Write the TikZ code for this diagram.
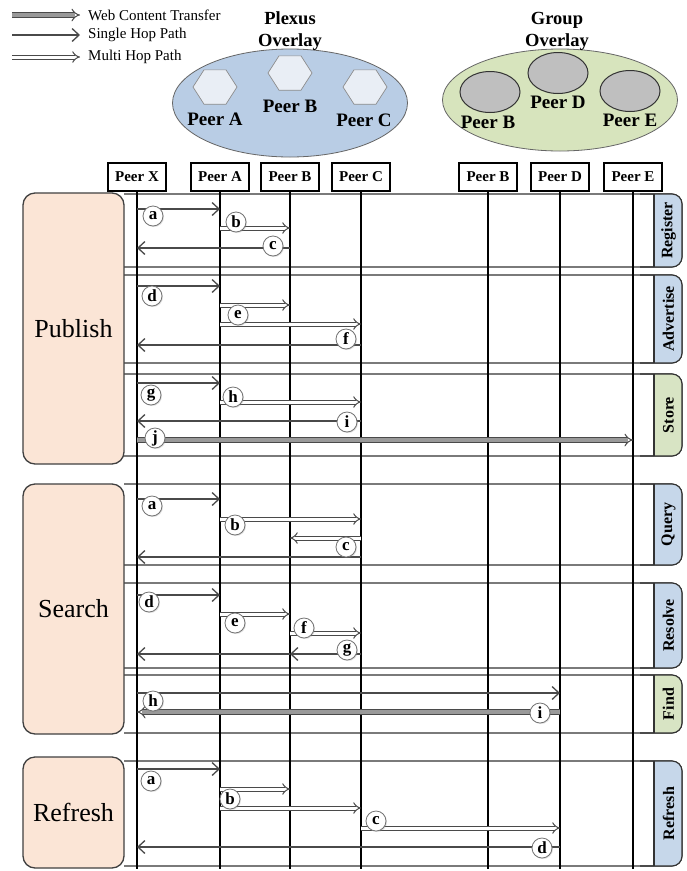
\documentclass[tikz,border=0pt]{standalone}
\usepackage{fontspec}
\setmainfont{Liberation Serif}
\usetikzlibrary{arrows.meta,shapes.geometric,shadows}
\definecolor{peach}{HTML}{FBE5D6}
\definecolor{tabblue}{HTML}{C6D7EA}
\definecolor{tabgreen}{HTML}{D8E4C4}
\definecolor{plexusc}{HTML}{B9CDE5}
\definecolor{groupc}{HTML}{D7E4BD}
\definecolor{hexfill}{HTML}{E9EEF5}
\definecolor{peergray}{HTML}{BFBFBF}
\definecolor{arrc}{HTML}{4A4A4A}
\tikzset{
  hdr/.style={draw, line width=1.5pt, minimum width=58pt, minimum height=28pt, inner sep=0pt, font=\fontsize{15}{17}\selectfont\bfseries},
  lifeline/.style={line width=1.6pt},
  bigbox/.style={draw=black!75, line width=1.3pt, fill=peach, rounded corners=12pt, minimum width=101pt, inner sep=0pt, font=\fontsize{26}{30}\selectfont},
  band/.style={draw=black!80, line width=1.1pt, rounded corners=10pt},
  tablbl/.style={rotate=90, font=\fontsize{16}{18}\selectfont\bfseries},
  single/.style={draw=arrc, line width=1.3pt, -{Straight Barb[length=7pt,width=13pt]}},
  multi/.style={draw=arrc, line width=1pt, double=white, double distance=3pt, -{Implies[scale=1.2]}},
  web/.style={draw=arrc, line width=1pt, double=black!40, double distance=3.4pt, -{Implies[scale=1.1]}},
  lbl/.style={circle, draw=black!55, fill=white, line width=0.8pt, minimum size=20pt, inner sep=0pt, font=\fontsize{17}{19}\selectfont\bfseries, drop shadow={opacity=0.25, shadow xshift=1pt, shadow yshift=-1pt}},
  ptitle/.style={font=\fontsize{18.5}{22}\selectfont\bfseries, align=center},
  plbl/.style={font=\fontsize{19}{21}\selectfont\bfseries},
  legtxt/.style={anchor=west, font=\fontsize{15}{17}\selectfont, inner sep=0pt},
  hexa/.style={regular polygon, regular polygon sides=6, minimum size=44pt, inner sep=0pt, draw=black!45, line width=0.7pt, fill=hexfill, yscale=0.9},
  gpeer/.style={ellipse, draw=black!80, line width=1pt, fill=peergray, minimum width=60pt, minimum height=41pt, inner sep=0pt},
}
\newcommand\msgline[4]{\draw[#1] (#2 |- 0,#4) -- (#3 |- 0,#4);}
\newcommand\bandbox[4]{% top, bottom, colour, label
  \draw[band] (124,#1) -- (682,#1) -- (682,#2) -- (124,#2);
  \begin{scope}
    \clip (654,#1) rectangle (690,#2);
    \fill[#3, rounded corners=10pt] (600,#1) rectangle (682,#2);
  \end{scope}
  \draw[band] (640,#1) -- (682,#1) -- (682,#2) -- (640,#2);
  \draw[black!80, line width=1.1pt] (654,#1) -- (654,#2);
  \node[tablbl] at (668.5,{(#1+#2)/2}) {#4};
}
\begin{document}
\begin{tikzpicture}[x=1pt, y=-1pt]
\useasboundingbox[fill=white] (0,0) rectangle (687,871);

% legend
\coordinate (l1a) at (12,15); \coordinate (l1b) at (80,15);
\coordinate (l2a) at (12,35); \coordinate (l2b) at (80,35);
\coordinate (l3a) at (12,57); \coordinate (l3b) at (80,57);
\draw[web] (l1a) -- (l1b);
\draw[single] (l2a) -- (l2b);
\draw[multi] (l3a) -- (l3b);
\node[legtxt] (t1) at (88,15) {Web Content Transfer};
\node[legtxt] (t2) at (88,35) {Single Hop Path};
\node[legtxt] (t3) at (88,57) {Multi Hop Path};

% overlays
\node[ellipse, draw=black!60, line width=0.8pt, fill=plexusc, minimum width=235pt, minimum height=108pt] (plexus) at (290,103) {};
\node[ptitle] (ptit) at (290,31) {Plexus\\Overlay};
\node[hexa] (hA) at (215,87) {};
\node[hexa] (hB) at (290,73) {};
\node[hexa] (hC) at (365,87) {};
\node[plbl] (pA) at (215,119) {Peer A};
\node[plbl] (pB) at (290,106) {Peer B};
\node[plbl] (pC) at (364,120) {Peer C};

\node[ellipse, draw=black!60, line width=0.8pt, fill=groupc, minimum width=235pt, minimum height=102pt] (group) at (560,100) {};
\node[ptitle] (gtit) at (557,31) {Group\\Overlay};
\node[gpeer] (cB) at (490,92) {};
\node[gpeer] (cD) at (558,73) {};
\node[gpeer] (cE) at (630,91) {};
\node[plbl] (qB) at (488,122) {Peer B};
\node[plbl] (qD) at (558,102) {Peer D};
\node[plbl] (qE) at (630,120) {Peer E};

% bands
\bandbox{194}{267}{tabblue}{Register}
\bandbox{275}{363}{tabblue}{Advertise}
\bandbox{374}{456}{tabgreen}{Store}
\bandbox{484}{565}{tabblue}{Query}
\bandbox{583}{668}{tabblue}{Resolve}
\bandbox{675}{733}{tabgreen}{Find}
\bandbox{761}{866}{tabblue}{Refresh}

% headers and lifelines
\node[hdr] (X) at (137,177) {Peer X};
\node[hdr] (A) at (220,177) {Peer A};
\node[hdr] (B) at (290,177) {Peer B};
\node[hdr] (C) at (361,177) {Peer C};
\node[hdr] (GB) at (488,177) {Peer B};
\node[hdr] (GD) at (560,177) {Peer D};
\node[hdr] (GE) at (633,177) {Peer E};
\foreach \n in {X,A,B,C,GB,GD,GE}{
  \coordinate (\n end) at (\n |- 0,869);
  \draw[lifeline] (\n.south) -- (\n end);
}

% big boxes
\node[bigbox, minimum height=271pt] (pub) at (73.5,328.5) {Publish};
\node[bigbox, minimum height=250pt] (sea) at (73.5,609) {Search};
\node[bigbox, minimum height=111pt] (ref) at (73.5,812.5) {Refresh};

% Register
\msgline{single}{X}{A}{209}
\msgline{multi}{A}{B}{228}
\msgline{single}{B}{X}{248}
\node[lbl] at (153,216) {a};
\node[lbl] at (236,222) {b};
\node[lbl] at (273,246) {c};

% Advertise
\msgline{single}{X}{A}{286}
\msgline{multi}{A}{B}{305}
\msgline{multi}{A}{C}{324}
\msgline{single}{C}{X}{345}
\node[lbl] at (152,296) {d};
\node[lbl] at (238,315) {e};
\node[lbl] at (346,339) {f};

% Store
\msgline{single}{X}{A}{383}
\msgline{multi}{A}{C}{402}
\msgline{single}{C}{X}{421}
\msgline{web}{X}{GE}{440}
\node[lbl] at (151,395) {g};
\node[lbl] at (233,397) {h};
\node[lbl] at (347,422) {i};
\node[lbl] at (155,438) {j};

% Query
\msgline{single}{X}{A}{499}
\msgline{multi}{A}{C}{519}
\msgline{multi}{C}{B}{538}
\msgline{single}{C}{X}{557}
\node[lbl] at (152,506) {a};
\node[lbl] at (235,525) {b};
\node[lbl] at (346,547) {c};

% Resolve
\msgline{single}{X}{A}{595}
\msgline{multi}{A}{B}{614}
\msgline{multi}{B}{C}{633}
\msgline{single}{C}{B}{654}
\msgline{single}{B}{X}{654}
\node[lbl] at (149,602) {d};
\node[lbl] at (235,623) {e};
\node[lbl] at (304,628) {f};
\node[lbl] at (347,650) {g};

% Find
\msgline{single}{X}{GD}{693}
\msgline{web}{GD}{X}{712}
\node[lbl] at (153,701) {h};
\node[lbl] at (540,713) {i};

% Refresh
\msgline{single}{X}{A}{769}
\msgline{multi}{A}{B}{789}
\msgline{multi}{A}{C}{808}
\msgline{multi}{C}{GD}{828}
\msgline{single}{GD}{X}{847}
\node[lbl] at (151,781) {a};
\node[lbl] at (230,799) {b};
\node[lbl] at (376,821) {c};
\node[lbl] at (542,848) {d};
\end{tikzpicture}
\end{document}
